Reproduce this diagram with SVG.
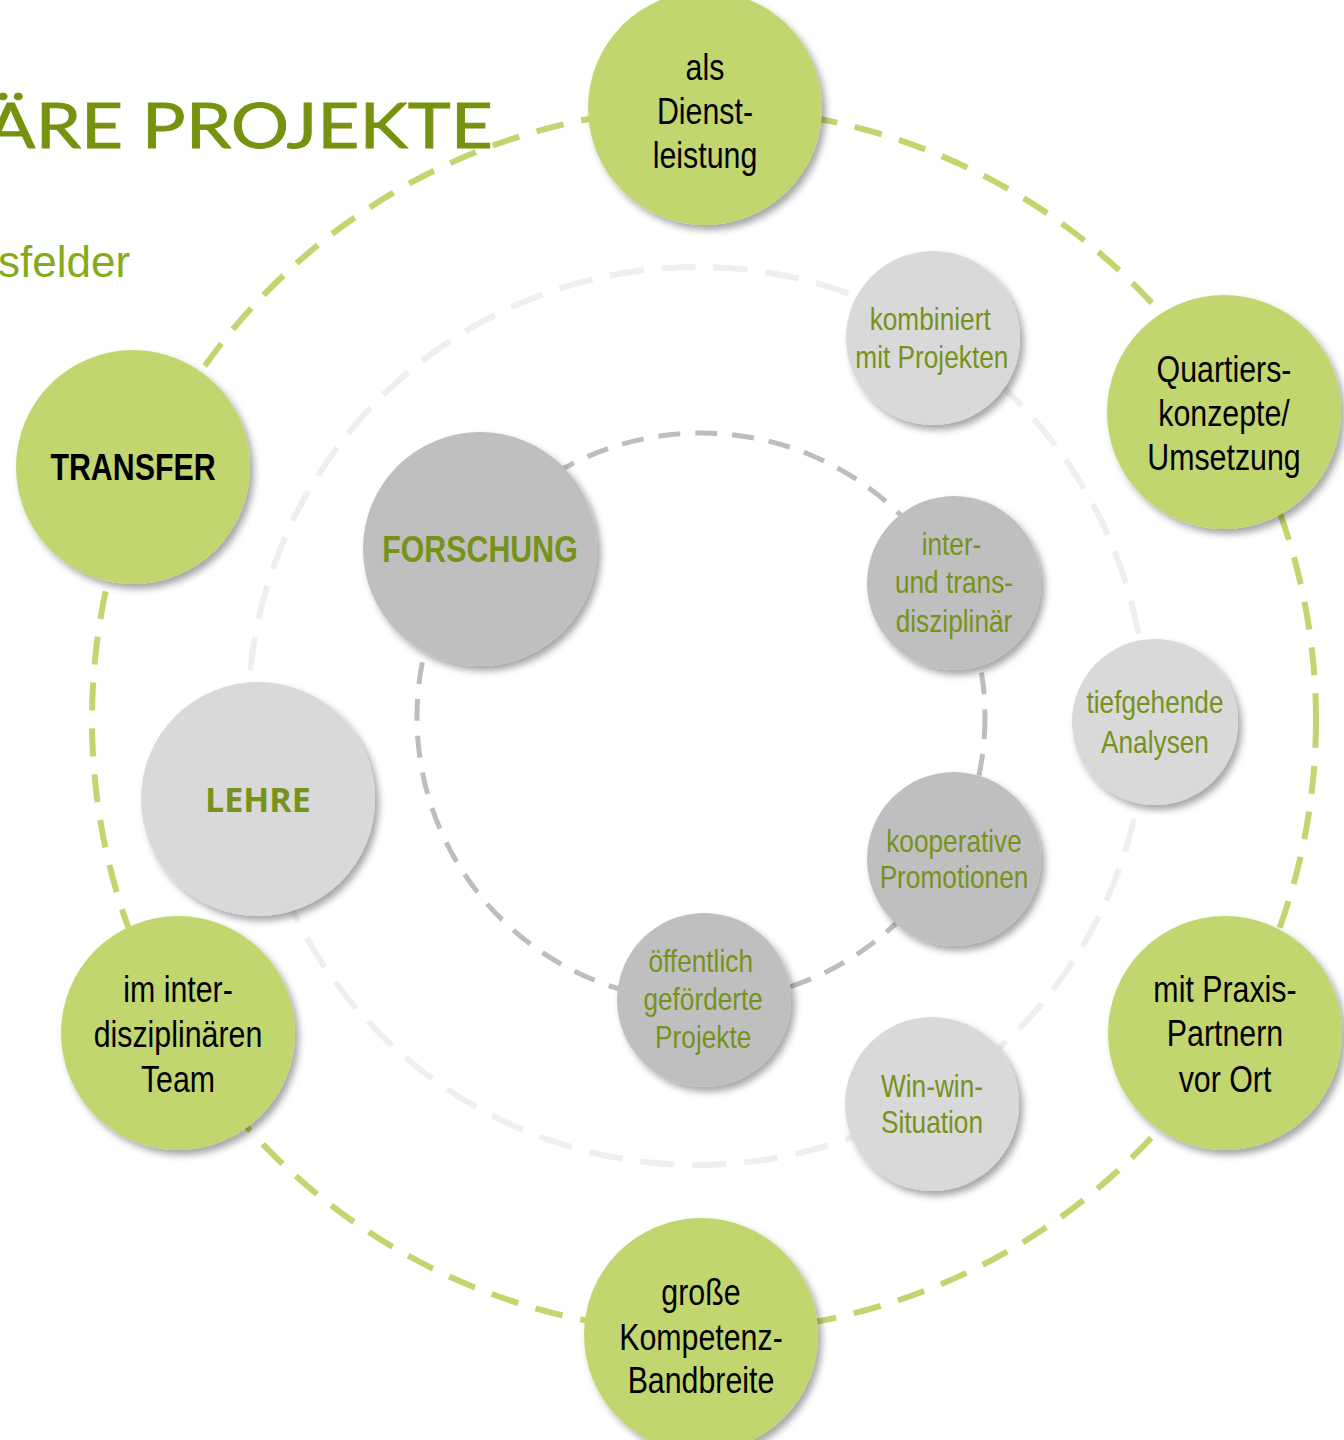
<svg xmlns="http://www.w3.org/2000/svg" width="1344" height="1440" viewBox="0 0 1344 1440">
<defs>
<filter id="sh" x="-20%" y="-20%" width="150%" height="150%">
<feDropShadow dx="4" dy="5" stdDeviation="3.5" flood-color="#000" flood-opacity="0.35"/>
</filter>
<style>
.g{fill:#c2d66f;filter:url(#sh)}
.d{fill:#bfbfbf;filter:url(#sh)}
.l{fill:#d9d9d9;filter:url(#sh)}
.bt{font-family:"Liberation Sans",Arial,sans-serif;font-size:37px;fill:#000;text-anchor:middle}
.st{font-family:"Liberation Sans",Arial,sans-serif;font-size:32px;fill:#76921a;text-anchor:middle}
.hb{font-family:"Liberation Sans",Arial,sans-serif;font-size:37px;font-weight:bold;text-anchor:middle}
</style>
</defs>
<rect width="1344" height="1440" fill="#fff"/>
<text x="-14" y="148" font-family="Lato,'DejaVu Sans',sans-serif" font-size="62" fill="#76920f" stroke="#76920f" stroke-width="0.8" textLength="507" lengthAdjust="spacingAndGlyphs">ÄRE PROJEKTE</text>
<text x="-2" y="277" font-family="'Liberation Sans',Arial,sans-serif" font-size="44" fill="#86aa1a">sfelder</text>
<g id="connectors" fill="none">
<circle cx="704" cy="720" r="612" stroke="#c2d66f" stroke-width="6" stroke-dasharray="28 18"/>
<circle cx="697" cy="716" r="449" stroke="#efefef" stroke-width="6" stroke-dasharray="34 18"/>
<circle cx="701" cy="717" r="284" stroke="#bdbdbd" stroke-width="5" stroke-dasharray="22 15"/>
</g>
<g id="n-dienst"><circle class="g" cx="705" cy="108" r="117"/><text class="bt" transform="matrix(0.82 0 0 1 126.9 0)"><tspan x="705" y="80">als</tspan><tspan x="705" y="124">Dienst-</tspan><tspan x="705" y="168">leistung</tspan></text></g>
<g id="n-quartiers"><circle class="g" cx="1224" cy="412" r="117"/><text class="bt" transform="matrix(0.82 0 0 1 220.32 0)"><tspan x="1224" y="382">Quartiers-</tspan><tspan x="1224" y="426">konzepte/</tspan><tspan x="1224" y="470">Umsetzung</tspan></text></g>
<g id="n-transfer"><circle class="g" cx="133" cy="467" r="117"/><text class="hb" x="133" y="480" fill="#000" transform="matrix(0.82 0 0 1 23.94 0)">TRANSFER</text></g>
<g id="n-team"><circle class="g" cx="178" cy="1033" r="117"/><text class="bt" transform="matrix(0.82 0 0 1 32.04 0)"><tspan x="178" y="1002">im inter-</tspan><tspan x="178" y="1047">disziplinären</tspan><tspan x="178" y="1092">Team</tspan></text></g>
<g id="n-praxis"><circle class="g" cx="1225" cy="1033" r="117"/><text class="bt" transform="matrix(0.82 0 0 1 220.5 0)"><tspan x="1225" y="1002">mit Praxis-</tspan><tspan x="1225" y="1046">Partnern</tspan><tspan x="1225" y="1092">vor Ort</tspan></text></g>
<g id="n-kompetenz"><circle class="g" cx="701" cy="1335" r="117"/><text class="bt" transform="matrix(0.82 0 0 1 126.18 0)"><tspan x="701" y="1305">große</tspan><tspan x="701" y="1350">Kompetenz-</tspan><tspan x="701" y="1393">Bandbreite</tspan></text></g>
<g id="n-forschung"><circle class="d" cx="480" cy="549" r="117"/><text class="hb" x="480" y="562" fill="#76921a" transform="matrix(0.82 0 0 1 86.4 0)">FORSCHUNG</text></g>
<g id="n-lehre"><circle class="l" cx="258" cy="799" r="117"/><text x="258" y="812" font-family="'Open Sans','Noto Sans',sans-serif" font-size="34" font-weight="bold" fill="#76921a" text-anchor="middle">LEHRE</text></g>
<g id="n-kombiniert"><circle class="l" cx="933" cy="338" r="87"/><text class="st" transform="matrix(0.82 0 0 1 167.58 0)"><tspan x="930" y="330">kombiniert</tspan><tspan x="932" y="368">mit Projekten</tspan></text></g>
<g id="n-inter"><circle class="d" cx="954" cy="583" r="87"/><text class="st" transform="matrix(0.82 0 0 1 171.72 0)"><tspan x="951" y="555">inter-</tspan><tspan x="954" y="593">und trans-</tspan><tspan x="954" y="632">disziplinär</tspan></text></g>
<g id="n-tief"><circle class="l" cx="1155" cy="722" r="83"/><text class="st" transform="matrix(0.82 0 0 1 207.9 0)"><tspan x="1155" y="713">tiefgehende</tspan><tspan x="1155" y="753">Analysen</tspan></text></g>
<g id="n-koop"><circle class="d" cx="954" cy="859" r="87"/><text class="st" transform="matrix(0.82 0 0 1 171.72 0)"><tspan x="954" y="852">kooperative</tspan><tspan x="954" y="888">Promotionen</tspan></text></g>
<g id="n-oeff"><circle class="d" cx="704" cy="1000" r="87"/><text class="st" transform="matrix(0.82 0 0 1 126.72 0)"><tspan x="700" y="972">öffentlich</tspan><tspan x="703" y="1010">geförderte</tspan><tspan x="703" y="1048">Projekte</tspan></text></g>
<g id="n-win"><circle class="l" cx="932" cy="1104" r="87"/><text class="st" transform="matrix(0.82 0 0 1 167.76 0)"><tspan x="932" y="1097">Win-win-</tspan><tspan x="932" y="1133">Situation</tspan></text></g>
</svg>
